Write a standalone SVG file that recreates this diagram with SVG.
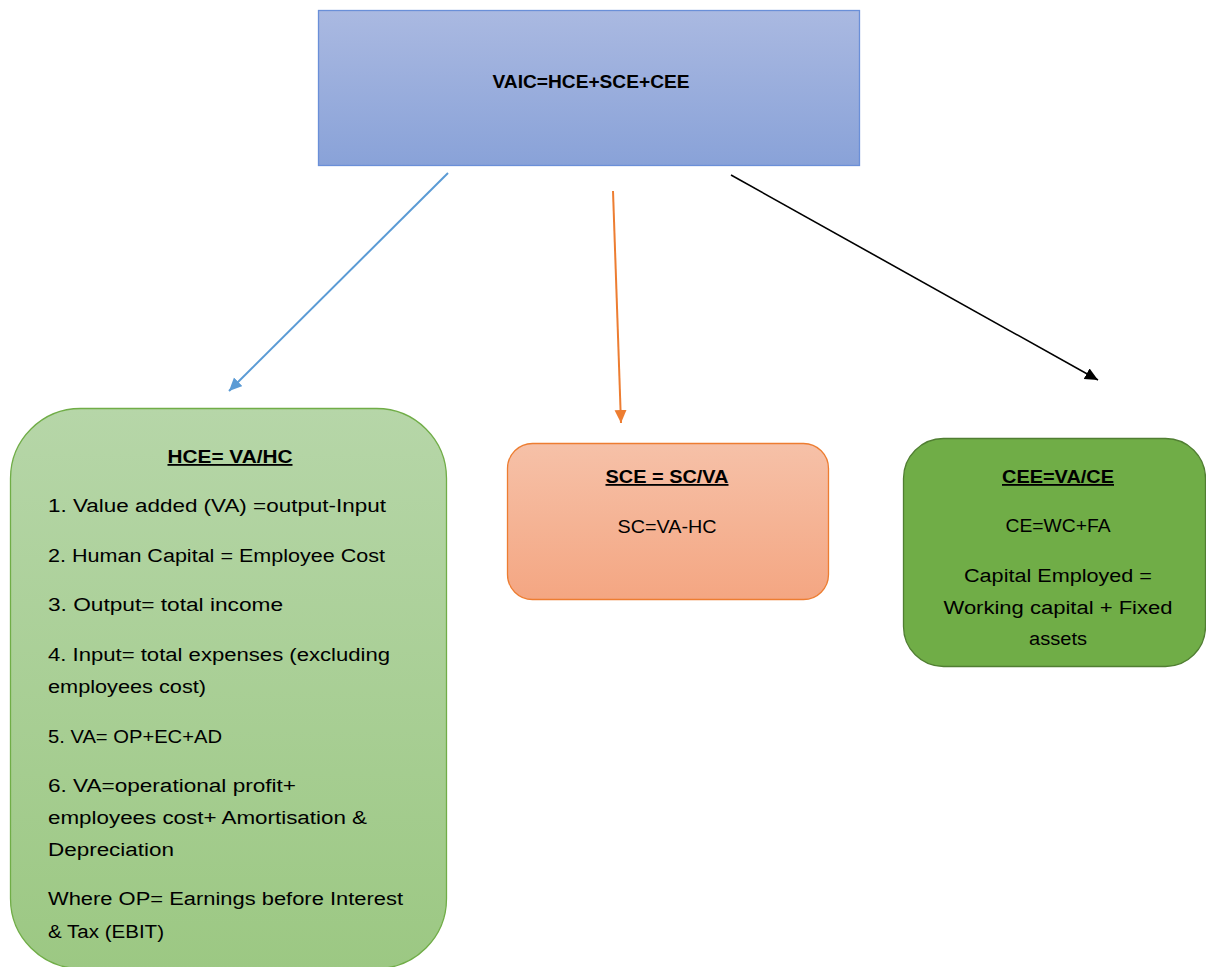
<svg xmlns="http://www.w3.org/2000/svg" width="1206" height="967" viewBox="0 0 1206 967">
<style>
text{font-family:"Liberation Sans",Arial,sans-serif;font-size:18px;fill:#000}
.b{font-weight:bold}
.u{text-decoration:underline}
.c{text-anchor:middle}
</style>
<defs>
<linearGradient id="gBlue" x1="0" y1="0" x2="0" y2="1"><stop offset="0" stop-color="#aab9e1"/><stop offset="1" stop-color="#89a2d8"/></linearGradient>
<linearGradient id="gGreen" x1="0" y1="0" x2="0" y2="1"><stop offset="0" stop-color="#b6d6a8"/><stop offset="1" stop-color="#9cc883"/></linearGradient>
<linearGradient id="gOrange" x1="0" y1="0" x2="0" y2="1"><stop offset="0" stop-color="#f6c1a8"/><stop offset="1" stop-color="#f4a682"/></linearGradient>
<marker id="mBlue" markerUnits="userSpaceOnUse" markerWidth="14" markerHeight="14" refX="13" refY="6" orient="auto"><path d="M0,0 L13,6 L0,12 z" fill="#5b9bd5"/></marker>
<marker id="mOrange" markerUnits="userSpaceOnUse" markerWidth="14" markerHeight="14" refX="13" refY="6" orient="auto"><path d="M0,0 L13,6 L0,12 z" fill="#ed7d31"/></marker>
<marker id="mBlack" markerUnits="userSpaceOnUse" markerWidth="14" markerHeight="14" refX="13" refY="6" orient="auto"><path d="M0,0 L13,6 L0,12 z" fill="#000"/></marker>
</defs>
<rect width="1206" height="967" fill="#fff"/>

<g id="connectors" fill="none" stroke-width="2">
<line x1="448" y1="173" x2="229" y2="391" stroke="#5b9bd5" marker-end="url(#mBlue)"/>
<line x1="613" y1="191" x2="621" y2="423" stroke="#ed7d31" marker-end="url(#mOrange)"/>
<line x1="731" y1="175" x2="1098" y2="380" stroke="#000" stroke-width="1.6" marker-end="url(#mBlack)"/>
</g>

<g id="vaic">
<rect x="318.5" y="10.5" width="541" height="155" fill="url(#gBlue)" stroke="#6a8fd8" stroke-width="1.3"/>
<text class="b c" x="591" y="88" textLength="197" lengthAdjust="spacingAndGlyphs">VAIC=HCE+SCE+CEE</text>
</g>

<g id="hce">
<rect x="10.5" y="408.5" width="436" height="560" rx="70" ry="70" fill="url(#gGreen)" stroke="#70ad47" stroke-width="1.3"/>
<text class="b u c" x="230" y="463" textLength="125" lengthAdjust="spacingAndGlyphs">HCE= VA/HC</text>
<text x="48" y="512" textLength="338" lengthAdjust="spacingAndGlyphs">1. Value added (VA) =output-Input</text>
<text x="48" y="562" textLength="337" lengthAdjust="spacingAndGlyphs">2. Human Capital = Employee Cost</text>
<text x="48" y="611" textLength="235" lengthAdjust="spacingAndGlyphs">3. Output= total income</text>
<text x="48" y="661" textLength="342" lengthAdjust="spacingAndGlyphs">4. Input= total expenses (excluding</text>
<text x="48" y="693" textLength="158" lengthAdjust="spacingAndGlyphs">employees cost)</text>
<text x="48" y="743" textLength="174" lengthAdjust="spacingAndGlyphs">5. VA= OP+EC+AD</text>
<text x="48" y="792" textLength="248" lengthAdjust="spacingAndGlyphs">6. VA=operational profit+</text>
<text x="48" y="824" textLength="319" lengthAdjust="spacingAndGlyphs">employees cost+ Amortisation &amp;</text>
<text x="48" y="856" textLength="126" lengthAdjust="spacingAndGlyphs">Depreciation</text>
<text x="48" y="905" textLength="355" lengthAdjust="spacingAndGlyphs">Where OP= Earnings before Interest</text>
<text x="48" y="938" textLength="116" lengthAdjust="spacingAndGlyphs">&amp; Tax (EBIT)</text>
</g>

<g id="sce">
<rect x="507.5" y="443.5" width="321" height="156" rx="25" ry="25" fill="url(#gOrange)" stroke="#ed7d31" stroke-width="1.3"/>
<text class="b u c" x="667" y="483" textLength="123" lengthAdjust="spacingAndGlyphs">SCE = SC/VA</text>
<text class="c" x="667" y="533" textLength="99" lengthAdjust="spacingAndGlyphs">SC=VA-HC</text>
</g>

<g id="cee">
<rect x="903.5" y="438.5" width="302" height="228" rx="40" ry="40" fill="#70ad47" stroke="#507e32" stroke-width="1.3"/>
<text class="b u c" x="1058" y="483" textLength="112" lengthAdjust="spacingAndGlyphs">CEE=VA/CE</text>
<text class="c" x="1058" y="532" textLength="105" lengthAdjust="spacingAndGlyphs">CE=WC+FA</text>
<text class="c" x="1058" y="582" textLength="188" lengthAdjust="spacingAndGlyphs">Capital Employed =</text>
<text class="c" x="1058" y="614" textLength="229" lengthAdjust="spacingAndGlyphs">Working capital + Fixed</text>
<text class="c" x="1058" y="645" textLength="58" lengthAdjust="spacingAndGlyphs">assets</text>
</g>
</svg>
